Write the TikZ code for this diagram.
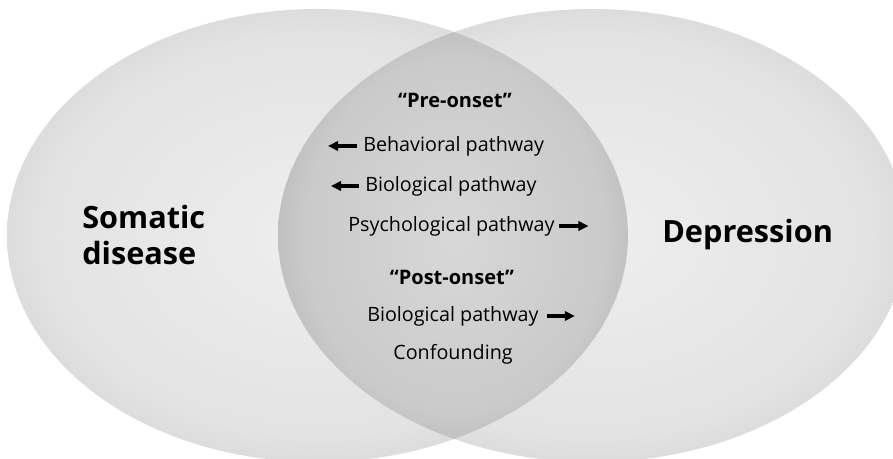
\documentclass[tikz,border=0pt]{standalone}
\usepackage{fontspec}
\setmainfont{Open Sans}
\usetikzlibrary{arrows.meta}
\definecolor{outin}{HTML}{EEEEEE}
\definecolor{outmid}{HTML}{E3E3E3}
\definecolor{outout}{HTML}{C6C6C6}
\definecolor{lensin}{HTML}{D8D8D8}
\definecolor{lensmid}{HTML}{CACACA}
\definecolor{lensout}{HTML}{A6A6A6}
\pgfdeclareradialshading{outsh}{\pgfpoint{0bp}{0bp}}{color(0bp)=(outin); color(22bp)=(outmid); color(35bp)=(outout); color(50bp)=(outout)}
\pgfdeclareradialshading{lenssh}{\pgfpoint{0bp}{0bp}}{color(0bp)=(lensin); color(21bp)=(lensmid); color(35bp)=(lensout); color(50bp)=(lensout)}
\tikzset{
  lbl/.style={inner sep=0pt, font=\fontsize{14.8pt}{17pt}\selectfont},
  hdr/.style={inner sep=0pt, font=\bfseries\fontsize{15pt}{17pt}\selectfont},
  big/.style={inner sep=0pt, align=left, font=\bfseries\fontsize{23pt}{27pt}\selectfont},
  arr/.style={line width=2.4pt, -{Triangle[length=7.5pt,width=7pt]}}
}
\begin{document}
\begin{tikzpicture}[x=0.75pt,y=-0.75pt]
\useasboundingbox (0,0) rectangle (893,459);
\begin{scope}
\clip (0,0) rectangle (893,459);
\shade[shading=outsh] (317.5,235.5) ellipse [x radius=310.5, y radius=226.5];
\shade[shading=outsh] (592.5,235.5) ellipse [x radius=314.5, y radius=226.5];
\begin{scope}
\clip (317.5,235.5) ellipse [x radius=310.5, y radius=226.5];
\clip (592.5,235.5) ellipse [x radius=314.5, y radius=226.5];
\shade[shading=lenssh] (455,235.5) ellipse [x radius=178, y radius=210];
\end{scope}
\end{scope}

\node[big, anchor=west] (som) at (82,235) {Somatic\\disease};
\node[big, anchor=west] (dep) at (662,235) {Depression};

\node[hdr] (pre) at (455,100) {``Pre-onset''};
\node[lbl, anchor=west] (beh) at (363,146) {Behavioral pathway};
\node[lbl, anchor=west] (bio1) at (365,186) {Biological pathway};
\node[lbl, anchor=west] (psy) at (348,226) {Psychological pathway};
\node[hdr] (post) at (452,277) {``Post-onset''};
\node[lbl, anchor=west] (bio2) at (367,316) {Biological pathway};
\node[lbl] (conf) at (453,354) {Confounding};

\draw[arr] ([xshift=-4.5pt]beh.west) -- ++(-29,0);
\draw[arr] ([xshift=-4.5pt]bio1.west) -- ++(-28,0);
\draw[arr] ([xshift=3.5pt]psy.east) -- ++(29,0);
\draw[arr] ([xshift=6pt]bio2.east) -- ++(28,0);
\end{tikzpicture}
\end{document}
